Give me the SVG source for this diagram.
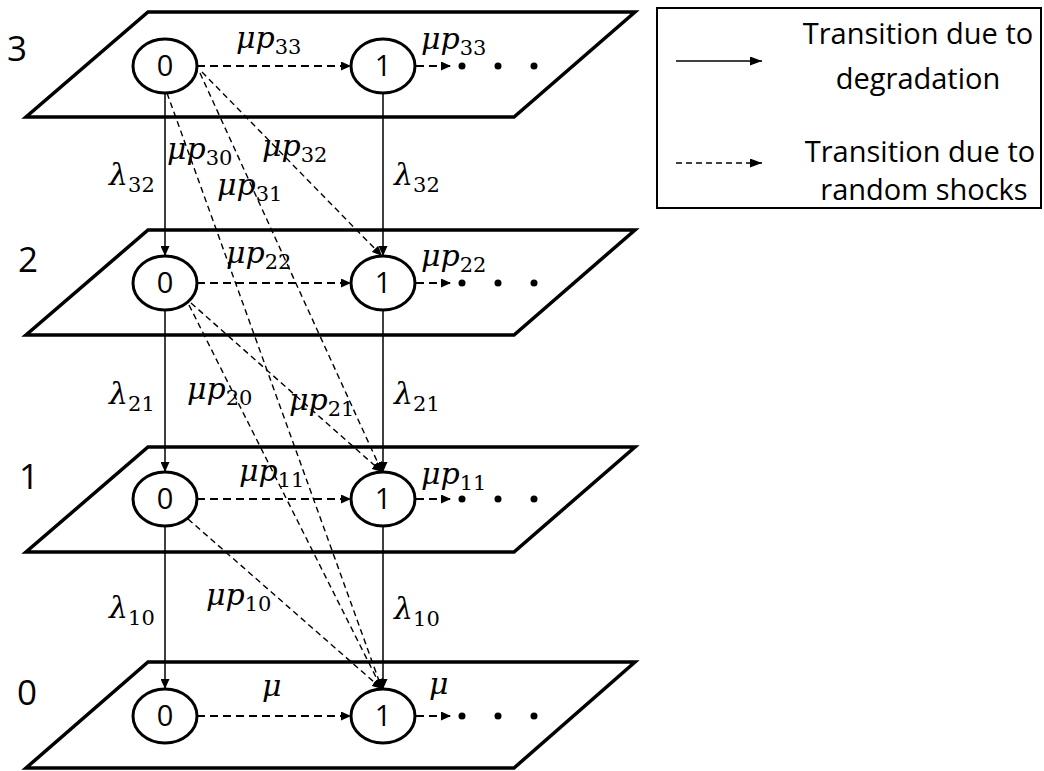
<svg xmlns="http://www.w3.org/2000/svg" width="1044" height="771" viewBox="0 0 1044 771">
<style>
.plane{fill:none;stroke:#000;stroke-width:3.5;stroke-linejoin:miter}
.node{fill:#fff;stroke:#000;stroke-width:3}
.ntxt{font-family:"Open Sans","Liberation Sans",sans-serif;font-size:29px;text-anchor:middle;fill:#000}
.plbl{font-family:"Open Sans","Liberation Sans",sans-serif;font-size:35px;fill:#000}
.solid{fill:none;stroke:#000;stroke-width:1.5}
.hd{fill:none;stroke:#000;stroke-width:2;stroke-dasharray:8 5}
.dd{fill:none;stroke:#000;stroke-width:1.4;stroke-dasharray:6 4}
.m{font-family:"DejaVu Serif","Liberation Serif",serif;font-size:30px;font-style:italic;fill:#000}
.s{font-size:21px;font-style:normal}
.leg{font-family:"Open Sans","Liberation Sans",sans-serif;font-size:29px;text-anchor:middle;fill:#000}
</style>
<defs>
<marker id="ah" viewBox="0 0 10 9" refX="10" refY="4.5" markerWidth="10" markerHeight="9" markerUnits="userSpaceOnUse" orient="auto"><path d="M0,0 L10,4.5 L0,9 z" fill="#000"/></marker>
<marker id="ahL" viewBox="0 0 12 9" refX="12" refY="4.5" markerWidth="12" markerHeight="9" markerUnits="userSpaceOnUse" orient="auto"><path d="M0,0 L12,4.5 L0,9 z" fill="#000"/></marker>
</defs>

<g id="planes">
<polygon class="plane" points="148,12 635,12 514,117 26,117"/>
<polygon class="plane" points="148,230 635,230 514,335 26,335"/>
<polygon class="plane" points="148,447 635,447 514,552 26,552"/>
<polygon class="plane" points="148,662 635,662 514,768 26,768"/>
</g>

<g id="plane-labels">
<text class="plbl" x="7" y="61">3</text>
<text class="plbl" x="18" y="272">2</text>
<text class="plbl" x="19" y="489">1</text>
<text class="plbl" x="17" y="705">0</text>
</g>

<g id="connectors">
<!-- degradation (solid vertical) -->
<line class="solid" x1="165" y1="93" x2="165" y2="256" marker-end="url(#ah)"/>
<line class="solid" x1="165" y1="310" x2="165" y2="472" marker-end="url(#ah)"/>
<line class="solid" x1="165" y1="526" x2="165" y2="689" marker-end="url(#ah)"/>
<line class="solid" x1="383" y1="93" x2="383" y2="256" marker-end="url(#ah)"/>
<line class="solid" x1="383" y1="310" x2="383" y2="472" marker-end="url(#ah)"/>
<line class="solid" x1="383" y1="526" x2="383" y2="689" marker-end="url(#ah)"/>
<!-- horizontal shocks -->
<line class="hd" x1="197" y1="66" x2="351" y2="66" marker-end="url(#ah)"/>
<line class="hd" x1="197" y1="283" x2="351" y2="283" marker-end="url(#ah)"/>
<line class="hd" x1="197" y1="499" x2="351" y2="499" marker-end="url(#ah)"/>
<line class="hd" x1="197" y1="716" x2="351" y2="716" marker-end="url(#ah)"/>
<line class="hd" x1="416" y1="66" x2="451" y2="66" marker-end="url(#ah)"/>
<line class="hd" x1="416" y1="283" x2="451" y2="283" marker-end="url(#ah)"/>
<line class="hd" x1="416" y1="499" x2="451" y2="499" marker-end="url(#ah)"/>
<line class="hd" x1="416" y1="716" x2="451" y2="716" marker-end="url(#ah)"/>
<!-- diagonal shocks -->
<line class="dd" x1="202" y1="72" x2="382" y2="256" marker-end="url(#ah)"/>
<line class="dd" x1="200" y1="73" x2="382" y2="472" marker-end="url(#ah)"/>
<line class="dd" x1="167" y1="93" x2="382" y2="689" marker-end="url(#ah)"/>
<line class="dd" x1="191" y1="303" x2="382" y2="472" marker-end="url(#ah)"/>
<line class="dd" x1="189" y1="305" x2="382" y2="689" marker-end="url(#ah)"/>
<line class="dd" x1="188" y1="519" x2="382" y2="689" marker-end="url(#ah)"/>
</g>

<g id="dots">
<circle cx="462" cy="66" r="3.5"/><circle cx="498" cy="66" r="3.5"/><circle cx="534" cy="66" r="3.5"/>
<circle cx="462" cy="283" r="3.5"/><circle cx="498" cy="283" r="3.5"/><circle cx="534" cy="283" r="3.5"/>
<circle cx="462" cy="499" r="3.5"/><circle cx="498" cy="499" r="3.5"/><circle cx="534" cy="499" r="3.5"/>
<circle cx="462" cy="716" r="3.5"/><circle cx="498" cy="716" r="3.5"/><circle cx="534" cy="716" r="3.5"/>
</g>

<g id="n30"><ellipse class="node" cx="165" cy="66" rx="32" ry="27"/><text class="ntxt" x="165" y="76">0</text></g>
<g id="n31"><ellipse class="node" cx="383" cy="66" rx="32" ry="27"/><text class="ntxt" x="383" y="76">1</text></g>
<g id="n20"><ellipse class="node" cx="165" cy="283" rx="32" ry="27"/><text class="ntxt" x="165" y="293">0</text></g>
<g id="n21"><ellipse class="node" cx="383" cy="283" rx="32" ry="27"/><text class="ntxt" x="383" y="293">1</text></g>
<g id="n10"><ellipse class="node" cx="165" cy="499" rx="32" ry="27"/><text class="ntxt" x="165" y="509">0</text></g>
<g id="n11"><ellipse class="node" cx="383" cy="499" rx="32" ry="27"/><text class="ntxt" x="383" y="509">1</text></g>
<g id="n00"><ellipse class="node" cx="165" cy="716" rx="32" ry="27"/><text class="ntxt" x="165" y="726">0</text></g>
<g id="n01"><ellipse class="node" cx="383" cy="716" rx="32" ry="27"/><text class="ntxt" x="383" y="726">1</text></g>

<g id="labels">
<text class="m" x="236" y="48">μp<tspan class="s" dy="6">33</tspan></text>
<text class="m" x="421" y="49">μp<tspan class="s" dy="6">33</tspan></text>
<text class="m" x="109" y="185">λ<tspan class="s" dy="7">32</tspan></text>
<text class="m" x="167" y="159">μp<tspan class="s" dy="6">30</tspan></text>
<text class="m" x="217" y="195">μp<tspan class="s" dy="6">31</tspan></text>
<text class="m" x="262" y="156">μp<tspan class="s" dy="6">32</tspan></text>
<text class="m" x="394" y="185">λ<tspan class="s" dy="7">32</tspan></text>

<text class="m" x="226" y="263">μp<tspan class="s" dy="6">22</tspan></text>
<text class="m" x="421" y="266">μp<tspan class="s" dy="6">22</tspan></text>
<text class="m" x="109" y="404">λ<tspan class="s" dy="7">21</tspan></text>
<text class="m" x="187" y="399">μp<tspan class="s" dy="6">20</tspan></text>
<text class="m" x="289" y="410">μp<tspan class="s" dy="6">21</tspan></text>
<text class="m" x="394" y="404">λ<tspan class="s" dy="7">21</tspan></text>

<text class="m" x="239" y="481">μp<tspan class="s" dy="6">11</tspan></text>
<text class="m" x="421" y="484">μp<tspan class="s" dy="6">11</tspan></text>
<text class="m" x="109" y="618">λ<tspan class="s" dy="7">10</tspan></text>
<text class="m" x="206" y="605">μp<tspan class="s" dy="6">10</tspan></text>
<text class="m" x="394" y="619">λ<tspan class="s" dy="7">10</tspan></text>

<text class="m" x="262" y="696">μ</text>
<text class="m" x="429" y="694">μ</text>
</g>

<g id="legend">
<rect x="657" y="8" width="384" height="200" fill="none" stroke="#000" stroke-width="2"/>
<line class="solid" x1="676" y1="61" x2="762" y2="61" marker-end="url(#ahL)"/>
<line class="dd" x1="676" y1="163" x2="762" y2="163" stroke-width="1.5" marker-end="url(#ahL)"/>
<text class="leg" x="918" y="44">Transition due to</text>
<text class="leg" x="918" y="89">degradation</text>
<text class="leg" x="920" y="162">Transition due to</text>
<text class="leg" x="924" y="200">random shocks</text>
</g>
</svg>
